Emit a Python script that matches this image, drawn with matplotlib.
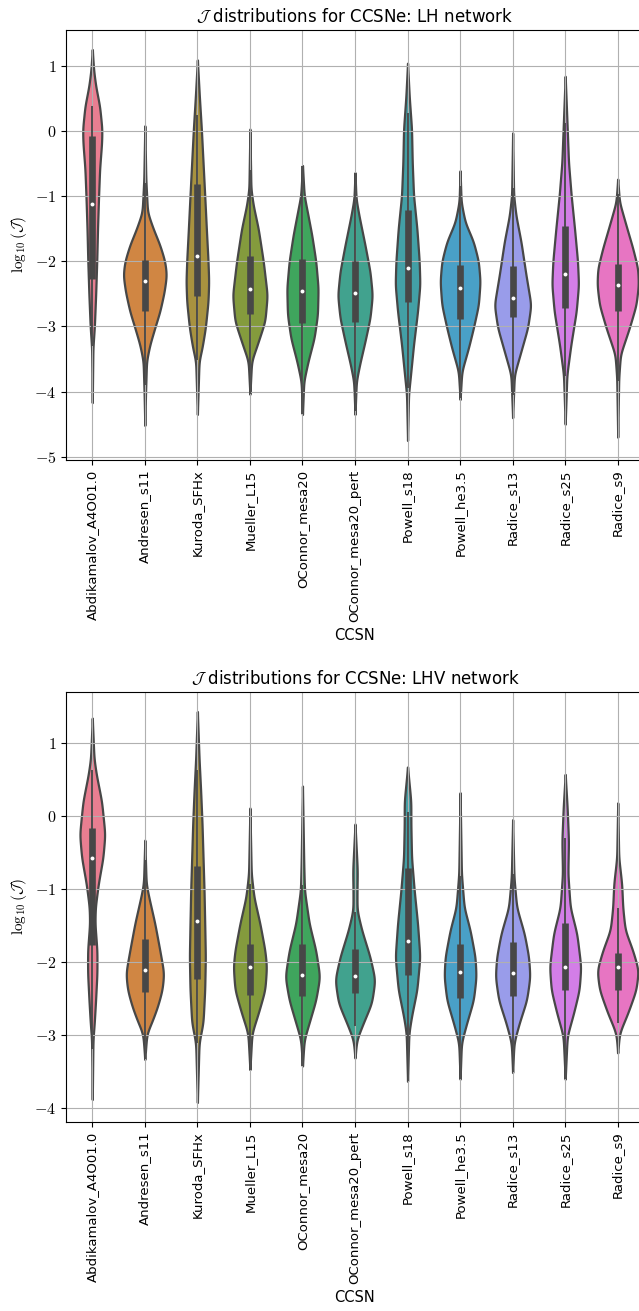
import numpy as np
import matplotlib
matplotlib.use("Agg")
import matplotlib.pyplot as plt
from matplotlib.ticker import FuncFormatter
import seaborn as sns

plt.rcParams["mathtext.fontset"] = "cm"
plt.rcParams["font.family"] = ["DejaVu Sans"]

names = ["Abdikamalov_A4O01.0", "Andresen_s11", "Kuroda_SFHx", "Mueller_L15",
         "OConnor_mesa20", "OConnor_mesa20_pert", "Powell_s18", "Powell_he3.5",
         "Radice_s13", "Radice_s25", "Radice_s9"]

# violin outlines: log10(J) levels and half widths
lh_ys = [
    [-4.17, -3.33, -3.0, -2.5, -2.0, -1.5, -1.0, -0.58, -0.18, 0.03, 0.38, 0.69, 0.94, 1.25],
    [-4.52, -4.04, -3.53, -3.28, -3.02, -2.77, -2.47, -2.21, -2.0, -1.75, -1.5, -1.25, -0.74, 0.08],
    [-4.35, -3.53, -3.33, -3.02, -2.62, -2.31, -2.0, -1.5, -0.99, -0.48, 0.03, 0.53, 1.09],
    [-4.04, -3.53, -3.28, -2.92, -2.52, -2.0, -1.5, -1.14, -0.89, 0.03],
    [-4.35, -3.84, -3.53, -3.18, -2.82, -2.41, -2.0, -1.6, -1.25, -0.99, -0.53],
    [-4.35, -3.84, -3.58, -3.23, -2.87, -2.52, -2.16, -1.75, -1.3, -1.04, -0.64],
    [-4.75, -4.04, -3.79, -3.28, -2.77, -2.36, -2.0, -1.5, -0.99, -0.48, 0.03, 0.53, 1.04],
    [-4.12, -3.69, -3.33, -3.02, -2.67, -2.31, -2.0, -1.7, -1.4, -1.09, -0.61],
    [-4.4, -3.74, -3.38, -3.02, -2.67, -2.21, -1.7, -1.3, -0.99, -0.03],
    [-4.5, -3.74, -3.28, -2.77, -2.36, -2.0, -1.5, -0.99, -0.48, 0.18, 0.84],
    [-4.7, -3.79, -3.43, -3.02, -2.67, -2.36, -2.11, -1.8, -1.45, -1.09, -0.74],
]
lh_hw = [
    [0, 0.012, 0.04, 0.065, 0.085, 0.10, 0.12, 0.14, 0.178, 0.184, 0.14, 0.065, 0.025, 0],
    [0, 0.013, 0.032, 0.095, 0.19, 0.286, 0.368, 0.413, 0.381, 0.286, 0.159, 0.051, 0.019, 0],
    [0, 0.032, 0.089, 0.152, 0.203, 0.216, 0.203, 0.171, 0.14, 0.108, 0.076, 0.038, 0],
    [0, 0.032, 0.14, 0.286, 0.33, 0.254, 0.159, 0.063, 0.019, 0],
    [0, 0.025, 0.108, 0.222, 0.286, 0.298, 0.254, 0.178, 0.095, 0.032, 0],
    [0, 0.025, 0.089, 0.19, 0.286, 0.33, 0.286, 0.19, 0.076, 0.019, 0],
    [0, 0.019, 0.051, 0.114, 0.19, 0.235, 0.222, 0.178, 0.114, 0.089, 0.076, 0.032, 0],
    [0, 0.032, 0.159, 0.254, 0.349, 0.381, 0.349, 0.254, 0.095, 0.019, 0],
    [0, 0.032, 0.159, 0.286, 0.349, 0.254, 0.159, 0.063, 0.019, 0],
    [0, 0.032, 0.108, 0.21, 0.254, 0.235, 0.178, 0.114, 0.063, 0.032, 0],
    [0, 0.019, 0.051, 0.222, 0.349, 0.394, 0.381, 0.286, 0.159, 0.032, 0],
]
lh_q1 = [-2.27, -2.76, -2.54, -2.81, -2.95, -2.93, -2.62, -2.88, -2.86, -2.72, -2.76]
lh_med = [-1.12, -2.31, -1.92, -2.43, -2.46, -2.48, -2.11, -2.41, -2.56, -2.19, -2.36]
lh_q3 = [-0.08, -1.98, -0.81, -1.92, -1.97, -2.0, -1.22, -2.06, -2.07, -1.46, -2.04]
lh_wlo = [-3.3, -3.9, -3.51, -4.04, -4.35, -4.3, -3.94, -4.1, -4.05, -3.76, -3.84]
lh_whi = [0.39, -0.8, 0.25, -0.6, -0.53, -0.64, 0.28, -0.85, -0.88, 0.13, -0.96]

lhv_ys = [
    [-3.88, -3.06, -2.83, -2.52, -2.15, -1.84, -1.47, -1.25, -0.93, -0.57, -0.25, 0.2, 0.57, 0.79, 1.34],
    [-3.33, -2.97, -2.83, -2.61, -2.38, -2.15, -1.84, -1.47, -1.11, -0.93, -0.33],
    [-3.92, -3.1, -2.83, -2.38, -1.93, -1.47, -1.02, -0.57, -0.11, 0.34, 0.79, 1.43],
    [-3.47, -2.97, -2.7, -2.38, -2.06, -1.84, -1.47, -1.11, -0.79, 0.11],
    [-3.42, -3.06, -2.83, -2.52, -2.2, -1.84, -1.47, -1.02, -0.66, 0.41],
    [-3.31, -3.06, -2.83, -2.56, -2.24, -1.93, -1.56, -1.29, -1.02, -0.75, -0.57, -0.11],
    [-3.63, -2.97, -2.74, -2.38, -1.93, -1.47, -1.02, -0.57, -0.11, 0.2, 0.67],
    [-3.6, -3.1, -2.83, -2.52, -2.2, -1.93, -1.56, -1.25, -0.79, 0.32],
    [-3.51, -3.1, -2.83, -2.52, -2.2, -1.93, -1.61, -1.25, -0.84, -0.05],
    [-3.6, -3.01, -2.7, -2.38, -2.06, -1.61, -1.25, -0.79, -0.34, 0.11, 0.57],
    [-3.24, -2.97, -2.7, -2.38, -2.11, -1.84, -1.56, -1.25, -0.93, -0.57, 0.18],
]
lhv_hw = [
    [0, 0.013, 0.038, 0.063, 0.089, 0.089, 0.05, 0.057, 0.114, 0.203, 0.241, 0.178, 0.076, 0.032, 0],
    [0, 0.038, 0.127, 0.241, 0.33, 0.362, 0.286, 0.19, 0.076, 0.025, 0],
    [0, 0.032, 0.108, 0.14, 0.152, 0.14, 0.127, 0.108, 0.089, 0.063, 0.032, 0],
    [0, 0.038, 0.159, 0.286, 0.317, 0.286, 0.19, 0.076, 0.025, 0],
    [0, 0.032, 0.127, 0.254, 0.33, 0.254, 0.127, 0.038, 0.025, 0],
    [0, 0.032, 0.159, 0.317, 0.381, 0.286, 0.127, 0.038, 0.038, 0.044, 0.032, 0],
    [0, 0.025, 0.076, 0.178, 0.235, 0.19, 0.127, 0.076, 0.063, 0.063, 0],
    [0, 0.025, 0.127, 0.254, 0.305, 0.286, 0.19, 0.076, 0.025, 0],
    [0, 0.025, 0.127, 0.267, 0.33, 0.305, 0.222, 0.076, 0.025, 0],
    [0, 0.038, 0.159, 0.267, 0.298, 0.222, 0.095, 0.051, 0.063, 0.038, 0],
    [0, 0.032, 0.19, 0.349, 0.394, 0.286, 0.14, 0.095, 0.076, 0.019, 0],
]
lhv_q1 = [-1.77, -2.41, -2.23, -2.45, -2.46, -2.42, -2.18, -2.49, -2.46, -2.38, -2.38]
lhv_med = [-0.57, -2.11, -1.44, -2.07, -2.17, -2.19, -1.71, -2.14, -2.15, -2.07, -2.07]
lhv_q3 = [-0.17, -1.68, -0.68, -1.75, -1.75, -1.82, -0.71, -1.75, -1.73, -1.47, -1.87]
lhv_wlo = [-3.19, -3.33, -3.1, -3.47, -3.42, -2.88, -3.63, -3.6, -3.51, -3.6, -2.83]
lhv_whi = [0.63, -0.6, 0.63, -0.93, -0.95, -1.31, 0.05, -0.82, -0.8, -0.3, -1.26]

colors = [sns.desaturate(c, 0.8) for c in sns.color_palette("husl", len(names))]
EDGE = "#474747"


def draw_violin(ax, x, ys, hws, color):
    grid = np.linspace(ys[0], ys[-1], 400)
    w = np.interp(grid, ys, hws)
    step = grid[1] - grid[0]
    n = int(0.3 / step)
    k = np.exp(-0.5 * (np.arange(-n, n + 1) * step / 0.07) ** 2)
    k /= k.sum()
    w = np.convolve(np.pad(w, n), k, mode="same")[n:-n]
    ax.fill_betweenx(grid, x - w, x + w, facecolor=color, edgecolor=EDGE,
                     linewidth=1.6, zorder=1)


def panel(ax, title, ys, hw, q1, med, q3, wlo, whi):
    for i in range(len(names)):
        draw_violin(ax, i, ys[i], hw[i], colors[i])
        ax.vlines(i, wlo[i], whi[i], color=EDGE, linewidth=1.3, zorder=2)
        ax.vlines(i, q1[i], q3[i], color=EDGE, linewidth=4.8, zorder=2)
    ax.scatter(range(len(names)), med, s=8, color="white", linewidths=0, zorder=3)
    ax.set_xlim(-0.5, len(names) - 0.5)
    ax.set_xticks(range(len(names)))
    ax.set_xticklabels(names, rotation=90, fontsize=9.5)
    ax.yaxis.set_major_formatter(FuncFormatter(lambda v, p: "$%g$" % v))
    ax.tick_params(axis="y", labelsize=11.5)
    ax.grid(True)
    ax.set_xlabel("CCSN", fontsize=10.5)
    ax.set_ylabel(r"$\log_{10}(\mathcal{J})$", fontsize=11)
    ax.set_title(r"$\mathcal{J}$ distributions for CCSNe: " + title, fontsize=12)


fig = plt.figure(figsize=(6.39, 13.11), dpi=100)
ax1 = fig.add_axes([66 / 639, (1311 - 460) / 1311, 578 / 639, 430 / 1311])
ax2 = fig.add_axes([66 / 639, (1311 - 1122) / 1311, 578 / 639, 430 / 1311])
panel(ax1, "LH network", lh_ys, lh_hw, lh_q1, lh_med, lh_q3, lh_wlo, lh_whi)
panel(ax2, "LHV network", lhv_ys, lhv_hw, lhv_q1, lhv_med, lhv_q3, lhv_wlo, lhv_whi)

fig.savefig("out.png", dpi=100)
